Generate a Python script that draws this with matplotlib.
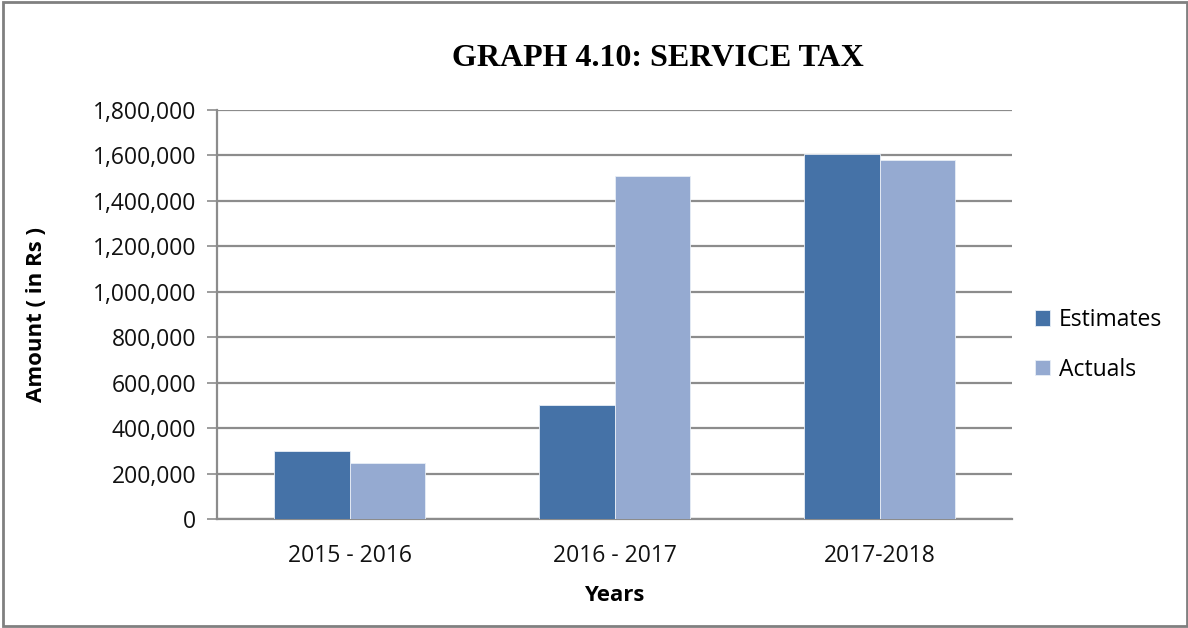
import matplotlib
matplotlib.use("Agg")
import matplotlib.pyplot as plt
import numpy as np
from matplotlib.patches import Rectangle
from matplotlib.ticker import FuncFormatter

years = ["2015 - 2016", "2016 - 2017", "2017-2018"]
estimates = [300000, 500000, 1605000]
actuals = [246000, 1511000, 1580000]

EST_COLOR = "#4572A7"
ACT_COLOR = "#95AAD1"
GRID_COLOR = "#8C8C8C"
TICK_FONT = "Open Sans"

fig = plt.figure(figsize=(11.88, 6.28), dpi=100)
ax = fig.add_axes([217 / 1188, 1 - 519 / 628, (1012 - 217) / 1188, (519 - 110) / 628])

x = np.arange(len(years))
w = 1 / 3.5
ax.bar(x - w / 2, estimates, width=w, color=EST_COLOR, edgecolor="#E8EEF6", linewidth=0.6,
       label="Estimates", zorder=3)
ax.bar(x + w / 2, actuals, width=w, color=ACT_COLOR, edgecolor="#E8EEF6", linewidth=0.6,
       label="Actuals", zorder=3)

ax.set_xlim(-0.5, len(years) - 0.5)
ax.set_ylim(0, 1800000)
ax.set_yticks(np.arange(0, 1800001, 200000))
ax.yaxis.set_major_formatter(FuncFormatter(lambda v, p: f"{int(v):,}"))
ax.set_xticks(x)
ax.set_xticklabels(years)

ax.grid(axis="y", color=GRID_COLOR, linewidth=1.6, zorder=0)
for side in ("top", "right"):
    ax.spines[side].set_visible(False)
for side in ("left", "bottom"):
    ax.spines[side].set_color(GRID_COLOR)
    ax.spines[side].set_linewidth(1.6)
ax.tick_params(axis="y", length=7, width=1.2, color=GRID_COLOR, pad=8)
ax.tick_params(axis="x", length=0, pad=18)
for lab in ax.get_xticklabels() + ax.get_yticklabels():
    lab.set_fontfamily(TICK_FONT)
    lab.set_fontsize(16.5)
    lab.set_color("#111111")

ax.set_xlabel("Years", fontfamily=TICK_FONT, fontsize=16, fontweight="bold", labelpad=12)
ax.set_ylabel("Amount ( in Rs )", fontfamily=TICK_FONT, fontsize=16, fontweight="bold")
ax.yaxis.set_label_coords((47 - 217) / 795, 0.5)

fig.text(658 / 1188, 1 - 58 / 628, "GRAPH 4.10: SERVICE TAX", ha="center", va="center",
         fontfamily="Liberation Serif", fontsize=23, fontweight="bold")

fig.legend(loc="center left", bbox_to_anchor=(1014 / 1188, 1 - 345 / 628), frameon=False,
           handlelength=0.65, handleheight=0.65, handletextpad=0.4, labelspacing=1.12,
           prop={"family": TICK_FONT, "size": 16.5})

fig.patches.append(Rectangle((3 / 1188, 2 / 628), 1184 / 1188, 624 / 628, transform=fig.transFigure,
                             fill=False, edgecolor="#808080", linewidth=2.0))

fig.savefig("out.png", dpi=100)
